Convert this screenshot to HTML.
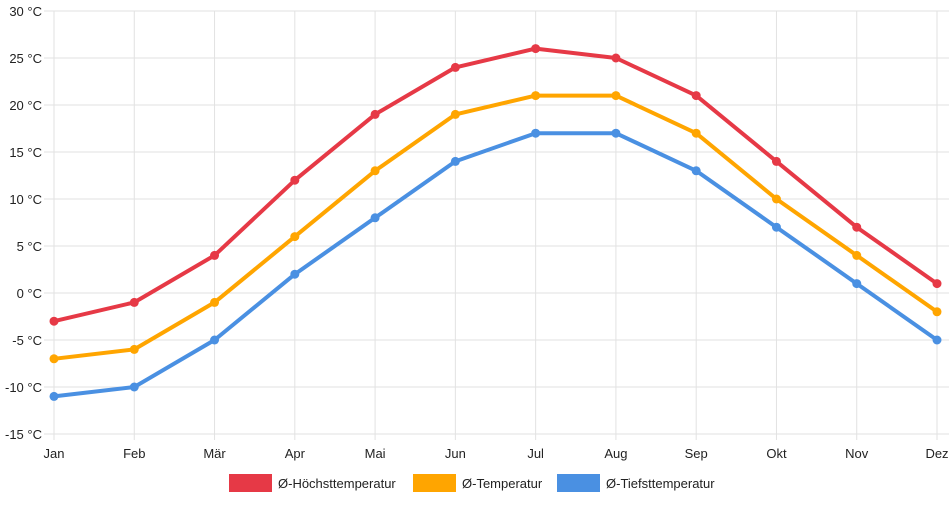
<!DOCTYPE html>
<html><head><meta charset="utf-8"><style>
body{margin:0;background:#fff;font-family:"Liberation Sans",sans-serif}
svg text{font-family:"Liberation Sans",sans-serif;font-size:13px;fill:#222}
</style></head><body>
<svg id="c" width="952" height="500"></svg>
<script>
const months=["Jan","Feb","Mär","Apr","Mai","Jun","Jul","Aug","Sep","Okt","Nov","Dez"];
const highs=[-3,-1,4,12,19,24,26,25,21,14,7,1];
const means=[-7,-6,-1,6,13,19,21,21,17,10,4,-2];
const lows=[-11,-10,-5,2,8,14,17,17,13,7,1,-5];
const yTicks=[-15,-10,-5,0,5,10,15,20,25,30];
const seriesNames=["Ø-Höchsttemperatur","Ø-Temperatur","Ø-Tiefsttemperatur"];
const NS="http://www.w3.org/2000/svg";
const svg=document.getElementById('c');
const x0=54,x1=937,yTop=11,yBot=434,vMin=-15,vMax=30;
const xs=i=>x0+i*(x1-x0)/(months.length-1);
const ys=v=>yBot-(v-vMin)/(vMax-vMin)*(yBot-yTop);
function mk(t,a,p){const e=document.createElementNS(NS,t);for(const k in a)e.setAttribute(k,a[k]);(p||svg).appendChild(e);return e;}
yTicks.forEach(v=>{
 const l=mk('line',{x1:44,x2:x1+12,y1:ys(v),y2:ys(v),stroke:'#e2e2e2','stroke-width':1});
 
 
 const t=mk('text',{x:42,y:ys(v)+5,'text-anchor':'end'});t.textContent=v+' °C';
 
 
});
months.forEach((m,i)=>{
 const l=mk('line',{x1:xs(i),x2:xs(i),y1:yTop,y2:yBot+6,stroke:'#e2e2e2','stroke-width':1});
 
 
 const t=mk('text',{x:xs(i),y:458,'text-anchor':'middle'});t.textContent=m;
 
 
});
const cols=["#e63946","#ffa500","#4a90e2"];
[highs,means,lows].forEach((d,s)=>{
 const p=mk('polyline',{points:d.map((v,i)=>xs(i)+','+ys(v)).join(' '),fill:'none',stroke:cols[s],'stroke-width':4,'stroke-linejoin':'round'});
 
 
 d.forEach((v,i)=>{const c=mk('circle',{cx:xs(i),cy:ys(v),r:4.5,fill:cols[s]});
 
 });
});
const lx=[229,413,557];
seriesNames.forEach((n,s)=>{
 const r=mk('rect',{x:lx[s],y:474,width:43,height:18,fill:cols[s]});
 
 
 const t=mk('text',{x:lx[s]+49,y:488});t.textContent=n;
 
 
});
</script>
</body></html>
